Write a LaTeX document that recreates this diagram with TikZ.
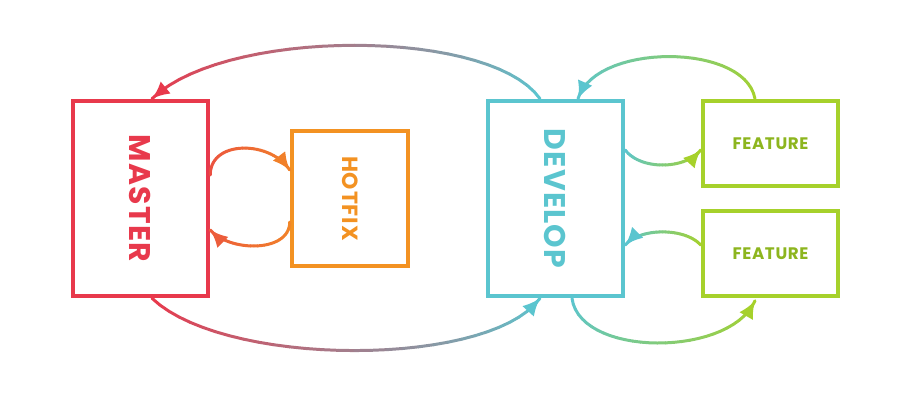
\documentclass[tikz,border=0pt]{standalone}
\usepackage{fontspec}
\newfontfamily\labelfont[LetterSpace=4]{Poppins}
\usetikzlibrary{calc,arrows.meta}
\definecolor{masterred}{HTML}{E8394C}
\definecolor{hotfixorange}{HTML}{F39222}
\definecolor{developcyan}{HTML}{5BC5CF}
\definecolor{featuregreen}{HTML}{A6D12B}
\definecolor{featuretext}{HTML}{8DB51F}
\tikzset{
  branch/.style={draw, line width=2.6pt, inner sep=0pt},
  biglabel/.style={rotate=-90, font=\labelfont\bfseries\fontsize{17}{17}\selectfont},
}
% gradient bezier: #1 start, #2 #3 controls, #4 end, #5 start colour, #6 end colour
\newcommand\gradarc[6]{%
  \foreach \k in {0,...,29}{%
    \pgfmathsetmacro\ta{\k/30}\pgfmathsetmacro\tb{(\k+1)/30}%
    \pgfmathsetmacro\aa{(1-\ta)^3}\pgfmathsetmacro\ab{3*\ta*(1-\ta)^2}%
    \pgfmathsetmacro\ac{3*\ta^2*(1-\ta)}\pgfmathsetmacro\ad{\ta^3}%
    \pgfmathsetmacro\ba{(1-\tb)^3}\pgfmathsetmacro\bb{3*\tb*(1-\tb)^2}%
    \pgfmathsetmacro\bc{3*\tb^2*(1-\tb)}\pgfmathsetmacro\bd{\tb^3}%
    \pgfmathsetmacro\mix{100-\k*100/29}%
    \draw[line width=1.7pt, line cap=round, color=#5!\mix!#6]
      ($\aa*(#1)+\ab*(#2)+\ac*(#3)+\ad*(#4)$) --
      ($\ba*(#1)+\bb*(#2)+\bc*(#3)+\bd*(#4)$);
  }%
  \draw[line width=1.7pt, -{Latex[length=10pt,width=9pt]}, #6]
    ($0.000125*(#1)+0.007125*(#2)+0.135375*(#3)+0.857375*(#4)$) -- (#4);
}

\begin{document}
\begin{tikzpicture}
  \useasboundingbox (0,0) rectangle (18.4,8);

  % branches
  \node[branch, masterred, minimum width=2.7cm, minimum height=3.9cm] (master) at (2.81,4.03) {};
  \node[branch, hotfixorange, minimum width=2.32cm, minimum height=2.7cm] (hotfix) at (7.0,4.03) {};
  \node[branch, developcyan, minimum width=2.7cm, minimum height=3.9cm] (develop) at (11.11,4.03) {};
  \node[branch, featuregreen, minimum width=2.7cm, minimum height=1.7cm] (featureA) at (15.41,5.13) {};
  \node[branch, featuregreen, minimum width=2.7cm, minimum height=1.7cm] (featureB) at (15.41,2.93) {};

  % labels
  \node[biglabel, masterred] (mastertext) at (master) {MASTER};
  \node[biglabel, developcyan] (developtext) at (develop) {DEVELOP};
  \node[rotate=-90, hotfixorange, font=\labelfont\bfseries\fontsize{12.5}{12.5}\selectfont] (hotfixtext) at (hotfix) {HOTFIX};
  \node[featuretext, font=\labelfont\bfseries\fontsize{9.5}{9.5}\selectfont] (featureAtext) at (featureA) {FEATURE};
  \node[featuretext, font=\labelfont\bfseries\fontsize{9.5}{9.5}\selectfont] (featureBtext) at (featureB) {FEATURE};

  % end points of the connectors
  \coordinate (devtop) at ($(develop.north)+(-0.31,0)$);
  \coordinate (mastop) at ($(master.north)+(0.23,0)$);
  \coordinate (masbot) at ($(master.south)+(0.23,0)$);
  \coordinate (devbot) at ($(develop.south)+(-0.31,0)$);
  \coordinate (masR1) at ($(master.east)+(0,0.47)$);
  \coordinate (hotL1) at ($(hotfix.west)+(0,0.57)$);
  \coordinate (hotL2) at ($(hotfix.west)+(0,-0.47)$);
  \coordinate (masR2) at ($(master.east)+(0,-0.63)$);
  \coordinate (featAtop) at ($(featureA.north)+(-0.31,0)$);
  \coordinate (devtopR) at ($(develop.north)+(0.45,0)$);
  \coordinate (devR1) at ($(develop.east)+(0,0.97)$);
  \coordinate (featAL) at ($(featureA.west)+(0,-0.13)$);
  \coordinate (featBL) at ($(featureB.west)+(0,0.17)$);
  \coordinate (devR2) at ($(develop.east)+(0,-0.93)$);
  \coordinate (devbotR) at ($(develop.south)+(0.33,0)$);
  \coordinate (featBbot) at ($(featureB.south)+(-0.31,-0.05)$);

  % connectors
  \gradarc{devtop}{9.8,7.45}{4.5,7.45}{mastop}{developcyan}{masterred}
  \gradarc{masbot}{4.5,0.64}{9.8,0.64}{devbot}{masterred}{developcyan}
  \gradarc{masR1}{4.2,5.2}{5.4,5.2}{hotL1}{masterred!70!hotfixorange}{hotfixorange!80!masterred}
  \gradarc{hotL2}{5.8,2.95}{4.6,2.95}{masR2}{hotfixorange!80!masterred}{masterred!60!hotfixorange}
  \gradarc{featAtop}{14.9,7.15}{11.9,7.15}{devtopR}{featuregreen}{developcyan}
  \gradarc{devR1}{12.8,4.6}{13.7,4.6}{featAL}{developcyan}{featuregreen}
  \gradarc{featBL}{13.7,3.45}{12.8,3.45}{devR2}{featuregreen}{developcyan}
  \gradarc{devbotR}{11.6,0.85}{14.6,0.85}{featBbot}{developcyan}{featuregreen}
\end{tikzpicture}
\end{document}
